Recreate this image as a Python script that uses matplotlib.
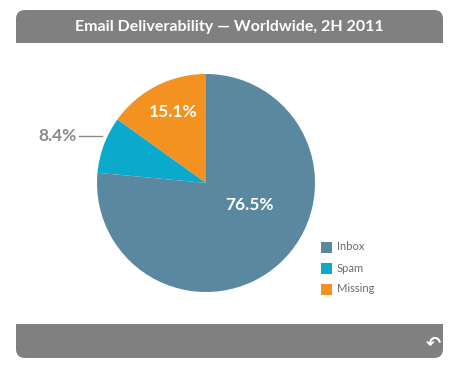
import matplotlib
matplotlib.use("Agg")
import matplotlib.pyplot as plt
from matplotlib.patches import FancyBboxPatch, Rectangle

title = "Email Deliverability — Worldwide, 2H 2011"
categories = ["Missing", "Spam", "Inbox"]
values = [15.1, 8.4, 76.5]
colors = ["#f39121", "#0ba9cc", "#5b88a1"]
legend_order = ["Inbox", "Spam", "Missing"]

W, H = 460, 373
fig = plt.figure(figsize=(W / 100, H / 100), dpi=100)
fig.patch.set_facecolor("white")

bg = fig.add_axes([0, 0, 1, 1])
bg.set_xlim(0, W)
bg.set_ylim(H, 0)
bg.axis("off")

gray = "#808080"
# title bar (rounded top)
bg.add_patch(FancyBboxPatch((16, 10), 427, 33, boxstyle="round,pad=0,rounding_size=9",
                            fc=gray, ec="none"))
bg.add_patch(Rectangle((16, 27), 427, 16, fc=gray, ec="none"))
bg.text(229, 27, title, color="white", fontsize=11.5, fontweight="bold",
        family="Lato", ha="center", va="center")
# bottom bar (rounded bottom)
bg.add_patch(FancyBboxPatch((16, 324), 427, 34, boxstyle="round,pad=0,rounding_size=9",
                            fc=gray, ec="none"))
bg.add_patch(Rectangle((16, 324), 427, 16, fc=gray, ec="none"))
bg.text(433, 343, "↶", color="white", fontsize=13, fontweight="bold",
        family="DejaVu Sans", ha="center", va="center")

# pie
cx, cy, r = 206, 183, 109
ax = fig.add_axes([(cx - r) / W, 1 - (cy + r) / H, 2 * r / W, 2 * r / H])
wedges, _ = ax.pie(values, colors=colors, startangle=90, counterclock=True,
                   wedgeprops=dict(linewidth=0))
ax.set_xlim(-1, 1)
ax.set_ylim(-1, 1)

ax.text(0.40, -0.20, f"{values[2]}%", color="white", fontsize=12.5, fontweight="bold",
        family="Lato", ha="center", va="center")
ax.text(-0.30, 0.65, f"{values[0]}%", color="white", fontsize=12.5, fontweight="bold",
        family="Lato", ha="center", va="center")
# spam label with leader line
bg.plot([79, 102], [136, 136], color="#8a8a8a", lw=1)
bg.text(77, 136, f"{values[1]}%", color="#8a8a8a", fontsize=12.5, fontweight="bold",
        family="Lato", ha="right", va="center")

# legend
cmap = dict(zip(categories, colors))
for i, name in enumerate(legend_order):
    y = 247 + i * 21
    bg.add_patch(Rectangle((321, y - 5.5), 11, 11, fc=cmap[name], ec="none"))
    bg.text(337, y, name, color="#6b6b6b", fontsize=8, family="Lato",
            ha="left", va="center")

fig.savefig("out.png", dpi=100)
